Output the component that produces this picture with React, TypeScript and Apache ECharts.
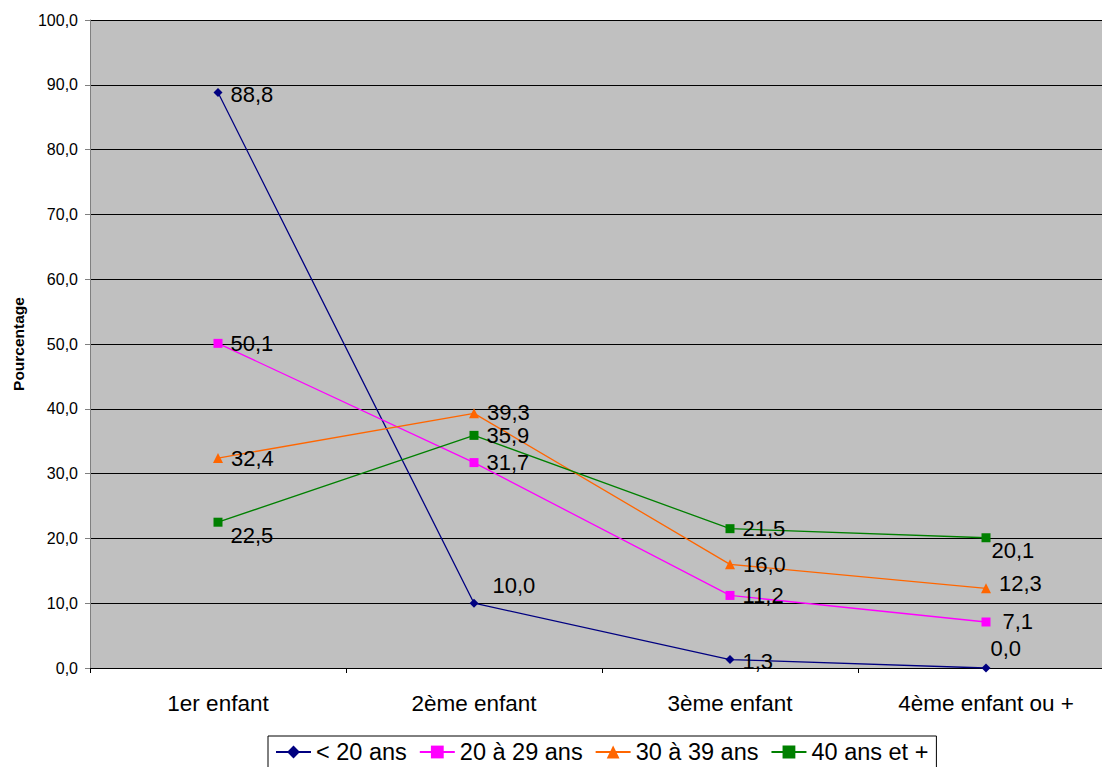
import React, { useEffect, useRef } from "react";
import * as echarts from "echarts";

const categories = ["1er enfant", "2ème enfant", "3ème enfant", "4ème enfant ou +"];
const seriesNames = ["< 20 ans", "20 à 29 ans", "30 à 39 ans", "40 ans et +"];
const under20 = [88.8, 10.0, 1.3, 0.0];
const from20to29 = [50.1, 31.7, 11.2, 7.1];
const from30to39 = [32.4, 39.3, 16.0, 12.3];
const over40 = [22.5, 35.9, 21.5, 20.1];
const yTicks = [0, 10, 20, 30, 40, 50, 60, 70, 80, 90, 100];

const colors = ["#000080", "#FF00FF", "#FF6600", "#008000"];
const symbols = ["diamond", "rect", "triangle", "rect"];
const symbolSizes = [9, 9, 10, 9];
// label offsets [dx, dy] per series per point (presentation only)
const labelOffsets = [
  [[0, 2], [6, -18], [0, 2], [-8, -20]],
  [[0, 0], [0, 0], [0, 0], [4, 0]],
  [[0, 0], [0, -1], [0, 0], [0, -5]],
  [[0, 13], [0, 0], [0, 0], [-7, 13]],
];

const fmt = (v: number) => v.toFixed(1).replace(".", ",");
const FONT = "Arial, 'Liberation Sans', sans-serif";

export default function App() {
  const ref = useRef<HTMLDivElement>(null);
  useEffect(() => {
    if (!ref.current) return;
    const chart = echarts.init(ref.current, undefined, { renderer: "svg" });
    const all = [under20, from20to29, from30to39, over40];
    const series = all.map((vals, si) => ({
      name: seriesNames[si],
      type: "line",
      data: vals.map((v, i) => ({
        value: v,
        label: { offset: labelOffsets[si][i] },
      })),
      symbol: symbols[si],
      symbolSize: symbolSizes[si],
      showAllSymbol: true,
      lineStyle: { color: colors[si], width: 1.3 },
      itemStyle: { color: colors[si] },
      emphasis: { disabled: true },
      label: {
        show: true,
        position: "right",
        distance: 8,
        color: "#000",
        fontSize: 22,
        fontFamily: FONT,
        formatter: (p: any) => fmt(p.value),
      },
      z: 2 + si,
    }));
    chart.setOption({
      animation: false,
      backgroundColor: "#fff",
      textStyle: { fontFamily: FONT },
      grid: {
        left: 90,
        right: -12,
        top: 20,
        bottom: 99,
        containLabel: false,
        outerBoundsMode: "none",
        show: true,
        backgroundColor: "#C0C0C0",
        borderWidth: 0,
      },
      legend: {
        show: true,
        left: 268,
        top: 736,
        data: seriesNames,
        itemWidth: 35,
        itemHeight: 16,
        itemGap: 12,
        padding: [4, 8, 4, 7],
        borderColor: "#000",
        borderWidth: 1,
        backgroundColor: "#fff",
        textStyle: { fontSize: 23.5, color: "#000", fontFamily: FONT },
      },
      xAxis: {
        type: "category",
        data: categories,
        boundaryGap: true,
        axisLine: { show: true, lineStyle: { color: "#000", width: 1 } },
        axisTick: { show: true, length: 5, inside: false, lineStyle: { color: "#000" } },
        axisLabel: { fontSize: 22.5, color: "#000", margin: 24, fontFamily: FONT },
        splitLine: { show: false },
      },
      yAxis: {
        type: "value",
        min: yTicks[0],
        max: yTicks[yTicks.length - 1],
        interval: 10,
        name: "Pourcentage",
        nameLocation: "middle",
        nameRotate: 90,
        nameGap: 64,
        nameTextStyle: { fontSize: 15.5, fontWeight: "bold", color: "#000", fontFamily: FONT },
        axisLine: { show: true, lineStyle: { color: "#808080", width: 1 } },
        axisTick: { show: true, length: 5, lineStyle: { color: "#808080" } },
        axisLabel: { fontSize: 16, color: "#000", margin: 12, fontFamily: FONT, formatter: (v: number) => fmt(v) },
        splitLine: { show: true, lineStyle: { color: "#000", width: 1 } },
      },
      series,
    });
    return () => chart.dispose();
  }, []);
  return (
    <div
      ref={ref}
      style={{ position: "fixed", left: 0, top: 0, width: 1102, height: 767, background: "#fff" }}
    />
  );
}
